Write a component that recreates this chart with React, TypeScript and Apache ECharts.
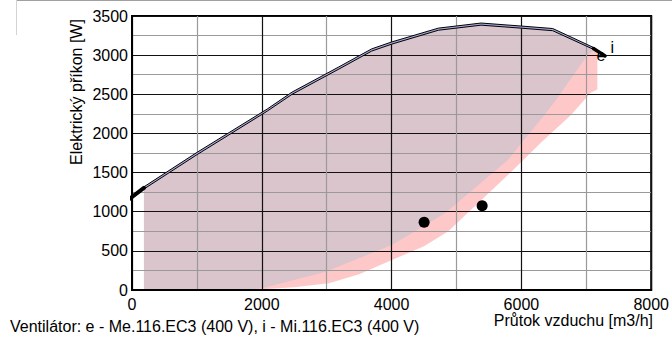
import React, { useEffect, useRef } from "react";
import * as echarts from "echarts";

type Pt = [number, number];

const X_MIN = 0;
const X_MAX = 8000;
const X_INTERVAL = 2000;
const Y_MIN = 0;
const Y_MAX = 3500;
const Y_INTERVAL = 500;

const xAxisName = "Průtok vzduchu [m3/h]";
const yAxisName = "Elektrický příkon [W]";
const footerText = "Ventilátor: e - Me.116.EC3 (400 V), i - Mi.116.EC3 (400 V)";

// upper and lower lines of the max. power curve band
const curveUpper: Pt[] = [
  [184, 1318], [1000, 1757], [2084, 2312], [2467, 2528], [3188, 2850], [3693, 3080],
  [4000, 3168], [4720, 3345], [5379, 3410], [5992, 3372], [6483, 3340], [7126, 3092],
];
const curveLower: Pt[] = [
  [184, 1290], [1000, 1728], [2084, 2285], [2467, 2500], [3188, 2822], [3693, 3052],
  [4000, 3140], [4720, 3318], [5379, 3383], [5992, 3345], [6483, 3312], [7126, 3068],
];
const curveStub: Pt[] = [[-60, 1150], [184, 1304]];

// lower (right) limit of the "i" working area, from top right to bottom left
const mauveLower: Pt[] = [
  [7100, 3050], [7019, 3002], [6533, 2427], [6356, 2235], [5997, 1874], [5793, 1661],
  [4828, 983], [4567, 852], [4005, 575], [2984, 234], [2008, 21], [1700, 0],
];
// lower (right) limit of the "e" working area, left to right
const pinkLower: Pt[] = [
  [1500, 0], [2000, 8], [2500, 35], [3034, 85], [3500, 200], [4005, 383], [4500, 560],
  [4874, 750], [5844, 1511], [6300, 1880], [6764, 2235], [6969, 2427], [7060, 2515], [7170, 2560],
];
const pinkRightTop: Pt = [7170, 3050];
const areaLeftX = 184;

const operatingPoints: Pt[] = [[4501, 865], [5395, 1077]];
const eLeader: Pt[] = [[7110, 3085], [7290, 2990]];
const curveLabelNames = ["e", "i"];
const curveLabelPos: Pt[] = [[7226, 2995], [7402, 3098]];

const FONT = "'Liberation Sans', Arial, Helvetica, sans-serif";

function polygonSeries(name: string, pts: Pt[], color: string, z: number) {
  return {
    type: "custom",
    name,
    z,
    silent: true,
    coordinateSystem: "cartesian2d",
    data: pts,
    encode: { x: 0, y: 1 },
    renderItem: (params: any, api: any) => {
      if (params.dataIndex !== 0) return { type: "group", children: [] };
      return {
        type: "polygon",
        shape: { points: pts.map((p) => api.coord(p)) },
        style: { fill: color, stroke: null },
      };
    },
  };
}

export default function App() {
  const ref = useRef<HTMLDivElement>(null);

  useEffect(() => {
    if (!ref.current) return;
    const chart = echarts.init(ref.current, null, { renderer: "svg" });

    const lowerRev = [...curveLower].reverse();
    const pinkPoly: Pt[] = [...pinkLower, pinkRightTop, ...lowerRev, [areaLeftX, 0]];
    const mauvePoly: Pt[] = [[areaLeftX, 0], ...curveLower, ...mauveLower];
    const bandPoly: Pt[] = [...curveUpper, ...lowerRev];

    const lineSeries = (name: string, data: Pt[], width: number, clip = true) => ({
      type: "line",
      name,
      data,
      symbol: "none",
      showSymbol: false,
      silent: true,
      clip,
      z: 5,
      lineStyle: { color: "#000", width, cap: "round" },
    });

    chart.setOption({
      animation: false,
      textStyle: { fontFamily: FONT },
      grid: {
        left: 132,
        right: 18,
        top: 16,
        bottom: 50,
        show: true,
        borderColor: "#000",
        borderWidth: 2,
        backgroundColor: "#fff",
      },
      xAxis: {
        type: "value",
        min: X_MIN,
        max: X_MAX,
        interval: X_INTERVAL,
        z: 3,
        axisLine: { show: true, lineStyle: { color: "#000", width: 2 } },
        axisTick: { show: false },
        axisLabel: {
          fontSize: 16,
          color: "#000",
          fontFamily: FONT,
          margin: 6,
          formatter: (v: number) => String(v),
        },
        splitLine: { show: true, lineStyle: { color: "#111", width: 1.2 } },
        minorTick: { show: false, splitNumber: 2 },
        minorSplitLine: { show: true, lineStyle: { color: "#9a9a9a", width: 1.2 } },
      },
      yAxis: {
        type: "value",
        min: Y_MIN,
        max: Y_MAX,
        interval: Y_INTERVAL,
        z: 3,
        axisLine: { show: true, lineStyle: { color: "#000", width: 2 } },
        axisTick: { show: false },
        axisLabel: {
          fontSize: 16,
          color: "#000",
          fontFamily: FONT,
          margin: 4,
          formatter: (v: number) => String(v),
        },
        splitLine: { show: true, lineStyle: { color: "#111", width: 1.2 } },
        minorTick: { show: false, splitNumber: 2 },
        minorSplitLine: { show: true, lineStyle: { color: "#9a9a9a", width: 1.2 } },
      },
      series: [
        polygonSeries("e area", pinkPoly, "#ffc8c8", 1),
        polygonSeries("i area", mauvePoly, "#d9c5cb", 1),
        polygonSeries("band", bandPoly, "#a7acdc", 4),
        lineSeries("upper", curveUpper, 1),
        lineSeries("lower", curveLower, 1),
        lineSeries("stub", curveStub, 4, false),
        lineSeries("leader", eLeader, 3.5, false),
        {
          type: "scatter",
          name: "points",
          data: operatingPoints,
          symbol: "circle",
          symbolSize: 11,
          itemStyle: { color: "#000", opacity: 1 },
          z: 6,
          silent: true,
        },
        {
          type: "scatter",
          name: "labels",
          data: curveLabelPos.map((p, i) => ({ name: curveLabelNames[i], value: p })),
          symbol: "circle",
          symbolSize: 0,
          itemStyle: { color: "transparent" },
          clip: false,
          z: 7,
          silent: true,
          label: {
            show: true,
            position: "inside",
            formatter: "{b}",
            fontSize: 16,
            color: "#000",
            opacity: 1,
            textBorderWidth: 0,
            textBorderColor: "transparent",
            fontFamily: FONT,
          },
        },
      ],
      graphic: [
        {
          type: "line",
          shape: { x1: 17, y1: 0.5, x2: 672, y2: 0.5 },
          style: { stroke: "#a0a0a0", lineWidth: 1 },
          silent: true,
        },
        {
          type: "line",
          shape: { x1: 16.5, y1: 0, x2: 16.5, y2: 35 },
          style: { stroke: "#d4d4d4", lineWidth: 1 },
          silent: true,
        },
        {
          type: "text",
          x: 76,
          y: 92,
          rotation: Math.PI / 2,
          style: {
            text: yAxisName,
            fontSize: 16,
            fontFamily: FONT,
            fill: "#000",
            align: "center",
            verticalAlign: "middle",
          },
          silent: true,
        },
        {
          type: "text",
          x: 653,
          y: 320,
          style: {
            text: xAxisName,
            fontSize: 16,
            fontFamily: FONT,
            fill: "#000",
            align: "right",
            verticalAlign: "middle",
          },
          silent: true,
        },
        {
          type: "text",
          x: 10,
          y: 326,
          style: {
            text: footerText,
            fontSize: 16,
            fontFamily: FONT,
            fill: "#000",
            align: "left",
            verticalAlign: "middle",
          },
          silent: true,
        },
      ],
    });

    return () => chart.dispose();
  }, []);

  return (
    <div
      ref={ref}
      style={{ position: "absolute", left: 0, top: 0, width: 672, height: 340 }}
    />
  );
}
